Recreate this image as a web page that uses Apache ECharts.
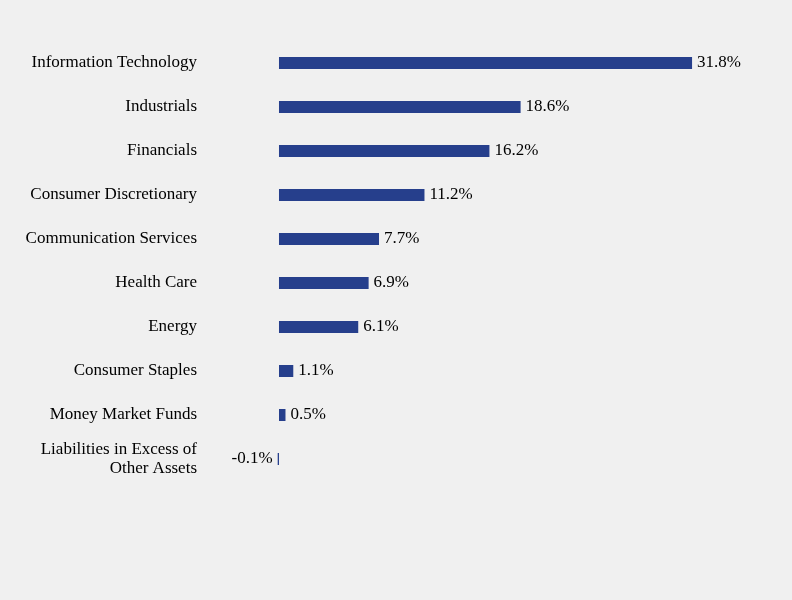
<!DOCTYPE html>
<html>
<head>
<meta charset="utf-8">
<script src="https://cdn.jsdelivr.net/npm/echarts@6/dist/echarts.min.js"></script>
<style>
  html, body { margin: 0; padding: 0; background: #f0f0f0; }
  #charts { width: 792px; height: 600px; }
</style>
</head>
<body>
<div id="charts"></div>
<script>
var categories = [
  'Information Technology',
  'Industrials',
  'Financials',
  'Consumer Discretionary',
  'Communication Services',
  'Health Care',
  'Energy',
  'Consumer Staples',
  'Money Market Funds',
  'Liabilities in Excess of\nOther Assets'
];
var weights = [31.8, 18.6, 16.2, 11.2, 7.7, 6.9, 6.1, 1.1, 0.5, -0.1];

var chartDom = document.getElementById('charts');
var myChart = echarts.init(chartDom);
var font = '"Liberation Serif", "Times New Roman", serif';

var option = {
  backgroundColor: '#f0f0f0',
  animation: false,
  grid: { left: 266, top: 41, width: 506.6, height: 440, containLabel: false },
  xAxis: {
    type: 'value',
    min: -1,
    max: 38,
    show: false
  },
  yAxis: {
    type: 'category',
    inverse: true,
    data: categories,
    axisLine: { show: false },
    axisTick: { show: false },
    axisLabel: {
      margin: 69,
      color: '#000',
      fontFamily: font,
      fontSize: 17,
      lineHeight: 19
    }
  },
  series: [
    {
      type: 'bar',
      barWidth: 12,
      itemStyle: { color: '#263f8c' },
      data: weights.map(function (v) {
        return {
          value: v,
          label: { position: v < 0 ? 'left' : 'right' }
        };
      }),
      label: {
        show: true,
        color: '#000',
        fontFamily: font,
        fontSize: 17,
        distance: 5,
        formatter: function (p) { return p.value.toFixed(1) + '%'; }
      }
    }
  ]
};

option && myChart.setOption(option);
</script>
</body>
</html>
